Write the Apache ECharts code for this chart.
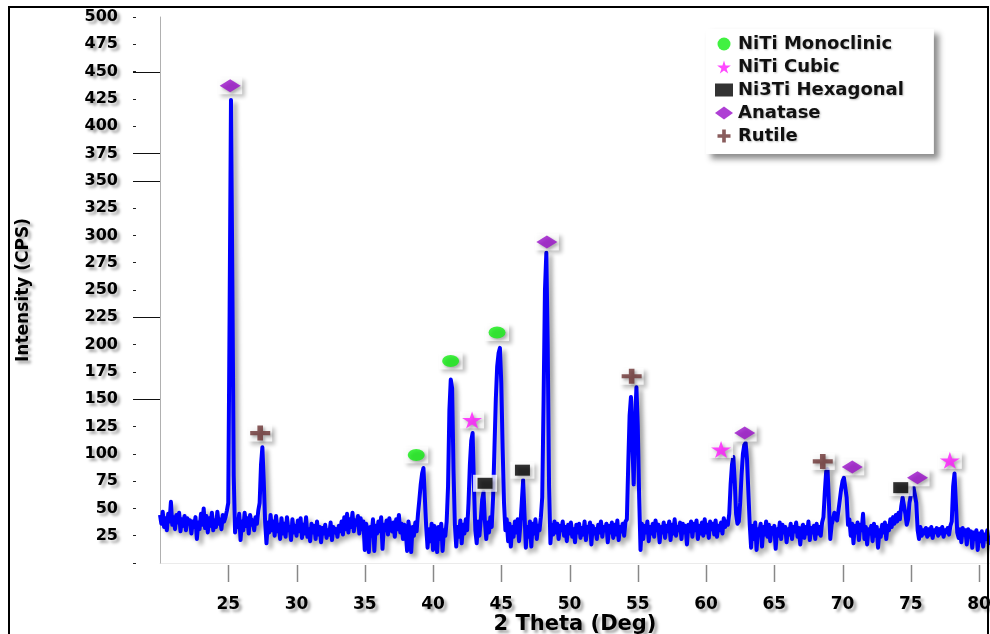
<!DOCTYPE html>
<html>
<head>
<meta charset="utf-8">
<script src="https://cdn.jsdelivr.net/npm/echarts@6/dist/echarts.min.js"></script>
<style>
html,body{margin:0;padding:0;background:#fff;}
#chart{width:990px;height:634px;}
</style>
</head>
<body>
<div id="chart"></div>
<script>
// ---- XRD profile: intensity sampled every 0.1 deg from 20.0 deg ----
const thetaStart = 20.0;
const thetaStep = 0.1;
const intensity = [
  44,36,47,33,41,30,45,38,56,35,   // 20
  42,31,44,37,46,29,40,34,43,30,   // 21
  41,36,39,27,38,33,42,22,37,31,   // 22
  45,35,50,32,43,28,41,34,46,30,   // 23
  39,33,47,36,40,31,44,38,42,48,   // 24
  55,230,424,260,80,28,40,33,45,21,// 25
  38,30,46,34,41,27,44,35,39,30,   // 26
  42,36,48,55,90,106,75,38,18,37,  // 27
  28,44,30,38,25,43,29,35,22,41,   // 28
  27,36,24,42,30,33,21,40,28,34,   // 29
  25,39,29,41,23,35,27,42,24,31,   // 30
  20,36,28,34,22,38,26,33,19,32,   // 31
  27,35,23,30,26,37,21,33,28,31,   // 32
  24,34,29,38,26,42,31,45,28,40,   // 33
  33,46,29,39,35,43,27,41,31,38,   // 34
  12,36,28,10,33,25,40,11,34,27,   // 35
  38,29,42,13,35,30,39,26,41,33,   // 36
  29,37,24,40,31,44,28,36,22,35,   // 37
  30,11,38,27,10,33,25,37,29,45,   // 38
  58,72,82,87,60,33,14,31,20,36,   // 39
  12,34,27,10,33,22,36,11,30,25,   // 40
  38,70,140,168,160,85,35,15,33,24,// 41
  39,18,35,27,40,30,55,90,112,119, // 42
  70,30,18,38,25,40,58,65,38,22,   // 43
  37,28,42,33,60,105,150,180,192,197, // 44
  165,105,55,30,40,20,36,15,33,24, // 45
  38,28,40,20,35,55,76,45,14,33,   // 46
  24,38,15,36,27,40,22,34,30,42,   // 47
  60,150,250,284,200,70,18,35,26,38, // 48
  28,36,22,34,30,38,25,33,20,35,   // 49
  27,37,24,31,19,35,28,36,23,32,   // 50
  26,38,21,33,29,37,17,34,27,31,   // 51
  22,35,28,38,24,33,30,36,19,34,   // 52
  28,37,23,35,26,39,21,33,29,36,   // 53
  25,38,40,90,135,152,110,72,130,161, // 54
  125,60,12,36,22,34,28,38,20,33,  // 55
  27,36,24,39,30,35,19,33,28,37,   // 56
  23,34,29,38,21,35,27,40,25,33,   // 57
  30,37,22,36,28,34,17,35,29,38,   // 58
  24,36,30,39,22,34,27,37,25,40,   // 59
  28,35,23,38,31,36,26,39,24,34,   // 60
  30,37,27,41,33,38,35,45,72,90,   // 61
  97,75,45,36,38,55,80,100,108,110,// 62
  95,65,35,14,34,22,37,12,31,28,   // 63
  36,15,33,26,38,24,35,20,32,27,   // 64
  34,13,31,25,37,22,35,28,33,19,   // 65
  31,26,36,22,33,29,37,24,32,17,   // 66
  30,35,23,33,27,38,21,32,28,34,   // 67
  22,36,27,33,25,37,42,65,84,86,   // 68
  55,22,35,40,46,42,39,48,58,68,   // 69
  75,78,79,60,35,40,25,36,18,34,   // 70
  28,37,21,35,30,45,22,33,17,31,   // 71
  27,34,20,36,25,33,14,30,24,35,   // 72
  28,37,22,34,30,40,33,42,36,44,   // 73
  38,46,40,52,60,61,45,35,40,55,   // 74
  62,66,69,70,55,30,22,33,25,30,   // 75
  27,32,24,31,26,33,23,30,28,32,   // 76
  25,31,27,33,24,30,28,32,26,34,   // 77
  38,70,82,55,28,23,31,19,32,26,   // 78
  30,17,31,24,29,14,28,22,30,12,   // 79
  27,20,29,15,26,22,30,18,25       // 80
];
const twoTheta = intensity.map((_, i) => +(thetaStart + i * thetaStep).toFixed(1));

// ---- phase markers [2theta, intensity] ----
const niTiMonoclinic = [[38.77, 99], [41.29, 185], [44.69, 211]];
const niTiCubic = [[42.86, 131], [61.1, 104], [77.86, 94]];
const ni3TiHexagonal = [[43.81, 73], [46.55, 85], [74.26, 69]];
const anatase = [[25.14, 437], [48.34, 294], [62.83, 119], [70.71, 88], [75.49, 78]];
const rutile = [[27.34, 119], [54.55, 171], [68.55, 93]];

const phaseNames = ['NiTi Monoclinic', 'NiTi Cubic', 'Ni3Ti Hexagonal', 'Anatase', 'Rutile'];

// ---- axis ticks ----
const yMin = 0, yMax = 500, yInterval = 25;
const xMin = 20, xMax = 80.8, xInterval = 5;
const xTickValues = [25, 30, 35, 40, 45, 50, 55, 60, 65, 70, 75, 80];
const longTickValues = [450, 375, 350, 225, 150];

const starPath = 'path://M50,0 L61,35 L98,35 L68,57 L79,91 L50,70 L21,91 L32,57 L2,35 L39,35 Z';
const plusPath = 'path://M36,0 H64 V36 H100 V64 H64 V100 H36 V64 H0 V36 H36 Z';

const FONT = 'DejaVu Sans';
const shadowText = {
  textShadowColor: 'rgba(0,0,0,0.35)',
  textShadowBlur: 3,
  textShadowOffsetX: 3,
  textShadowOffsetY: 3
};
const markerShadow = {
  shadowColor: 'rgba(0,0,0,0.35)',
  shadowBlur: 3,
  shadowOffsetX: 2,
  shadowOffsetY: 2
};

const chart = echarts.init(document.getElementById('chart'), null, {renderer: 'canvas'});

const profile = twoTheta.map((t, i) => [t, intensity[i]]);
const allMarkers = [].concat(niTiMonoclinic, niTiCubic, ni3TiHexagonal, anatase, rutile);

chart.setOption({
  backgroundColor: '#ffffff',
  animation: false,
  grid: {left: 160, right: 0, top: 17, bottom: 71, containLabel: false, outerBoundsMode: 'none'},
  legend: {
    data: phaseNames,
    orient: 'vertical',
    left: 706,
    top: 29,
    padding: [6, 30, 9, 9],
    itemGap: 5,
    itemWidth: 18,
    itemHeight: 13,
    backgroundColor: '#ffffff',
    shadowColor: 'rgba(0,0,0,0.45)',
    shadowBlur: 6,
    shadowOffsetX: 5,
    shadowOffsetY: 5,
    textStyle: {
      fontFamily: FONT, fontWeight: 'bold', fontSize: 18, color: '#111',
      textShadowColor: 'rgba(0,0,0,0.25)', textShadowBlur: 2, textShadowOffsetX: 1, textShadowOffsetY: 1
    }
  },
  xAxis: {
    type: 'value',
    min: xMin,
    max: xMax,
    interval: xInterval,
    name: '2 Theta (Deg)',
    nameLocation: 'middle',
    nameGap: 51,
    nameMoveOverlap: false,
    nameTextStyle: Object.assign({fontFamily: FONT, fontWeight: 'bold', fontSize: 21, color: '#000'}, shadowText),
    axisLine: {show: true, lineStyle: {color: 'rgba(0,0,0,0.08)', width: 1}},
    axisTick: {show: false},
    axisLabel: Object.assign({
      fontFamily: FONT, fontWeight: 'bold', fontSize: 17, color: '#000', margin: 33,
      showMinLabel: false, showMaxLabel: false,
      formatter: v => (v === xMin ? '' : String(v))
    }, shadowText),
    splitLine: {show: false}
  },
  yAxis: {
    type: 'value',
    min: yMin,
    max: yMax,
    interval: yInterval,
    name: 'Intensity (CPS)',
    nameLocation: 'middle',
    nameGap: 128,
    nameMoveOverlap: false,
    nameTextStyle: Object.assign({fontFamily: FONT, fontWeight: 'bold', fontSize: 17, color: '#000'}, shadowText),
    axisLine: {show: true, lineStyle: {color: '#b0b0b0', width: 1}},
    axisTick: {show: true, length: 27, lineStyle: {color: '#222', width: 1, type: [3, 24], dashOffset: 3}},
    axisLabel: Object.assign({
      fontFamily: FONT, fontWeight: 'bold', fontSize: 16, color: '#000', margin: 42,
      formatter: v => (v === 0 ? '' : String(v))
    }, shadowText),
    splitLine: {show: false}
  },
  series: [
    {
      name: 'XRD',
      type: 'line',
      data: profile,
      showSymbol: false,
      symbol: 'none',
      sampling: null,
      lineStyle: {
        color: '#0000ff', width: 4, join: 'round',
        shadowColor: 'rgba(0,0,0,0.35)', shadowBlur: 4, shadowOffsetX: 4, shadowOffsetY: 4
      },
      z: 2
    },
    {
      name: 'markerBox',
      type: 'scatter',
      data: allMarkers,
      symbol: 'rect',
      symbolSize: [24, 17],
      itemStyle: {color: '#ffffff', shadowColor: 'rgba(0,0,0,0.3)', shadowBlur: 4, shadowOffsetX: 3, shadowOffsetY: 3},
      silent: true,
      z: 3
    },
    {
      name: 'NiTi Monoclinic', type: 'scatter', data: niTiMonoclinic,
      symbol: 'circle', symbolSize: [17, 12],
      itemStyle: Object.assign({color: '#11ee11'}, markerShadow), z: 4
    },
    {
      name: 'NiTi Cubic', type: 'scatter', data: niTiCubic,
      symbol: starPath, symbolSize: [20, 17],
      itemStyle: Object.assign({color: '#ff1aff'}, markerShadow), z: 4
    },
    {
      name: 'Ni3Ti Hexagonal', type: 'scatter', data: ni3TiHexagonal,
      symbol: 'rect', symbolSize: [15, 11],
      itemStyle: Object.assign({color: '#000000'}, markerShadow), z: 4
    },
    {
      name: 'Anatase', type: 'scatter', data: anatase,
      symbol: 'diamond', symbolSize: [21, 13],
      itemStyle: Object.assign({color: '#9a0fc9'}, markerShadow), z: 4
    },
    {
      name: 'Rutile', type: 'scatter', data: rutile,
      symbol: plusPath, symbolSize: [20, 15],
      itemStyle: Object.assign({color: '#6b3333'}, markerShadow), z: 4
    }
  ]
});

// extra tick marks positioned through the axis scales
const origin = chart.convertToPixel({gridIndex: 0}, [xMin, yMin]);
const axisX = origin[0];
const axisY = origin[1];
const graphics = longTickValues.map(v => {
  const y = Math.round(chart.convertToPixel({gridIndex: 0}, [xMin, v])[1]) + 0.5;
  return {type: 'line', shape: {x1: axisX - 27, y1: y, x2: axisX, y2: y}, style: {stroke: '#111', lineWidth: 1}, silent: true, z: 10};
});
xTickValues.forEach(v => {
  const x = Math.round(chart.convertToPixel({gridIndex: 0}, [v, yMin])[0]) + 0.5;
  graphics.push({
    type: 'line', shape: {x1: x, y1: axisY + 2, x2: x, y2: axisY + 19},
    style: {stroke: '#888', lineWidth: 1.5},
    silent: true, z: 10
  });
});
// outer frame
graphics.push({type: 'polyline', shape: {points: [[9, 640], [9, 7], [988, 7], [988, 640]]}, style: {stroke: '#000', lineWidth: 2, fill: null}, silent: true, z: 10});
chart.setOption({graphic: graphics});
</script>
</body>
</html>
